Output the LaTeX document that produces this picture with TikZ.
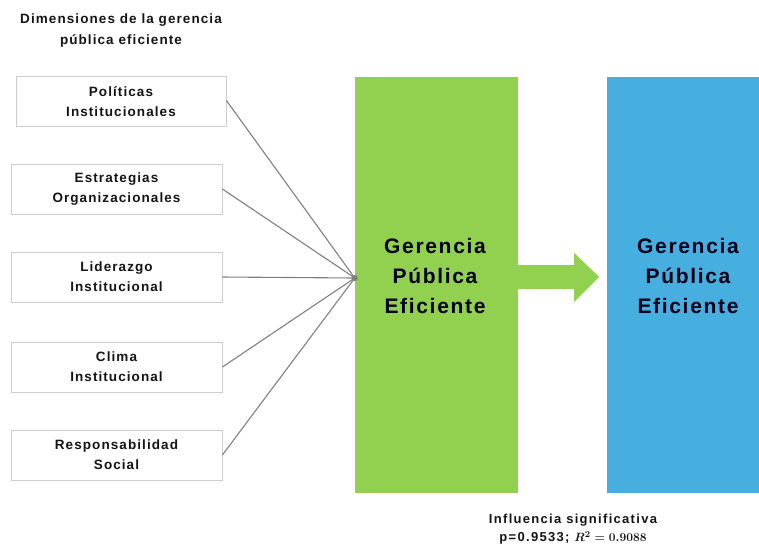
\documentclass[tikz,border=0pt]{standalone}
\usepackage{fontspec}
\setmainfont{Liberation Sans}
\usetikzlibrary{calc}
\definecolor{gpgreen}{HTML}{92D050}
\definecolor{gpblue}{HTML}{47AFDF}
\definecolor{boxline}{HTML}{CCCCCC}
\definecolor{linkgray}{HTML}{7F7F7F}
\definecolor{darktext}{HTML}{141414}
\begin{document}
\begin{tikzpicture}[x=1pt,y=1pt,
  dimbox/.style={draw=boxline, line width=0.8pt, fill=white, minimum height=50pt, inner sep=0pt,
    align=center, text=darktext, font=\fontsize{13.5}{20}\selectfont\bfseries\addfontfeatures{LetterSpace=8}},
  bigbox/.style={draw=none, minimum width=160pt, minimum height=416pt, inner sep=0pt},
  bigtext/.style={align=center, text=black!90!blue, font=\fontsize{21}{30}\selectfont\bfseries\addfontfeatures{LetterSpace=8}},
  note/.style={align=center, text=darktext, font=\fontsize{13}{18}\selectfont\bfseries\addfontfeatures{LetterSpace=10}},
  link/.style={draw=linkgray, line width=1.1pt}
]
\useasboundingbox (0,0) rectangle (759,-546);
\node[note, font=\fontsize{13.5}{21}\selectfont\bfseries\addfontfeatures{LetterSpace=8}] (title) at (121,-31) {Dimensiones de la gerencia\\pública eficiente};

\node[dimbox, minimum width=210pt] (b1) at (121,-101.5) {Políticas\\Institucionales};
\node[dimbox, minimum width=211pt] (b2) at (116.5,-189) {Estrategias\\Organizacionales};
\node[dimbox, minimum width=211pt] (b3) at (116.5,-277) {Liderazgo\\Institucional};
\node[dimbox, minimum width=211pt] (b4) at (116.5,-367) {Clima\\Institucional};
\node[dimbox, minimum width=211pt] (b5) at (116.5,-455) {Responsabilidad\\Social};

\node[bigbox, fill=gpgreen, minimum width=163pt] (green) at (436.5,-284.5) {};
\node[bigbox, fill=gpblue, minimum width=152pt] (blue) at (683,-284.5) {};
\node[bigtext] (gtext) at (435,-276) {Gerencia\\Pública\\Eficiente};
\node[bigtext] (btext) at (688,-276) {Gerencia\\Pública\\Eficiente};

\coordinate (hub) at ($(green.west)+(0,6.5)$);
\draw[link] ($(b1.east)+(0,1)$) -- (hub);
\draw[link] (b2.east) -- (hub);
\draw[link] (b3.east) -- (hub);
\draw[link] (b4.east) -- (hub);
\draw[link] (b5.east) -- (hub);
\fill[linkgray] (hub) circle (3pt);

\fill[gpgreen] ($(green.east)+(0,19.5)$) -- ++(56,0) -- ++(0,12) -- ($(green.east)+(81,7.5)$)
  -- ($(green.east)+(56,-17.5)$) -- ++(0,13) -- ($(green.east)+(0,-4.5)$) -- cycle;

\node[note] (infl) at (573,-529) {Influencia significativa\\p=0.9533; {\boldmath$R^2 = 0.9088$}};
\end{tikzpicture}
\end{document}
